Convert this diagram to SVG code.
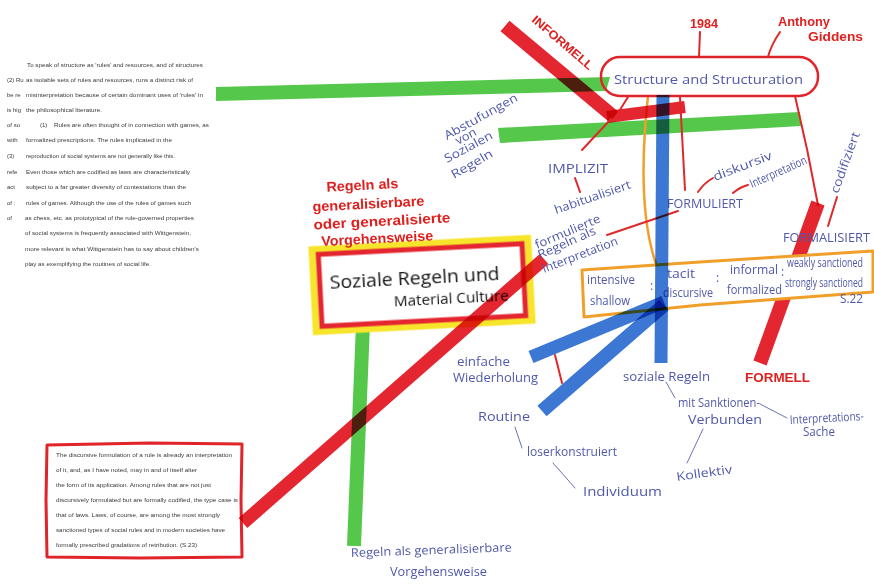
<svg xmlns="http://www.w3.org/2000/svg" width="874" height="584" viewBox="0 0 874 584">
<style>
.bar{fill:none;stroke-linecap:butt;mix-blend-mode:multiply}
.r{stroke:#e3262f}
.g{stroke:#55c84b}
.b{stroke:#3b77d3}
.thin{fill:none;stroke:#e0282a;stroke-width:2;stroke-linecap:round}
.bl{fill:none;stroke:#6d74b3;stroke-width:1;stroke-linecap:round}
.hw{font-family:"Open Sans","DejaVu Sans",sans-serif;fill:#4f58aa;font-size:12px}
.rb{font-family:"Liberation Sans",Arial,sans-serif;font-weight:bold;fill:#e0201f}
.doc{font-family:"Liberation Sans",Arial,sans-serif;font-size:6px;fill:#3a3a3a}
.blk{font-family:"Open Sans","Liberation Sans",sans-serif;fill:#151515}
</style>
<rect width="874" height="584" fill="#ffffff"/>

<g id="connectors">
  <polygon points="215,87 610,77 606,91 215,101" fill="#55c84b" style="mix-blend-mode:multiply"/>
  <polygon points="498,128 800,112 801,126 500,143" fill="#55c84b" style="mix-blend-mode:multiply"/>
  <line class="bar g" x1="363" y1="324" x2="354" y2="546" stroke-width="14"/>
  <path d="M648,96 C641,160 641,220 656,264" fill="none" stroke="#f0a02a" stroke-width="2.5"/>
  <line class="bar r" x1="505" y1="26" x2="614" y2="117" stroke-width="14"/>
  <line class="bar r" x1="607" y1="117" x2="685" y2="107" stroke-width="12"/>
  <line class="thin" x1="628" y1="97" x2="618" y2="113"/>
  <line class="thin" x1="680" y1="97" x2="685" y2="190"/>
  <line class="thin" x1="611" y1="119" x2="582" y2="150"/>
  <line class="thin" x1="575" y1="178" x2="580" y2="192"/>
  <path class="thin" d="M698,192 Q704,183 713,178"/>
  <path class="thin" d="M733,193 Q740,187 748,185"/>
  <line class="thin" x1="607" y1="235" x2="678" y2="211"/>
  <path class="thin" d="M795,96 Q808,150 818,205"/>
  <line class="thin" x1="837" y1="197" x2="828" y2="226"/>
  <line class="thin" x1="700" y1="32" x2="699" y2="57"/>
  <path class="thin" d="M780,32 Q771,45 768,57"/>
  <line class="thin" x1="555" y1="355" x2="562" y2="383"/>
  <line class="bar r" x1="818" y1="203" x2="760" y2="363" stroke-width="14"/>
  <line class="bl" x1="515" y1="427" x2="522" y2="448"/>
  <line class="bl" x1="553" y1="463" x2="575" y2="488"/>
  <line class="bl" x1="666" y1="382" x2="675" y2="398"/>
  <line class="bl" x1="760" y1="404" x2="787" y2="418"/>
  <line class="bl" x1="703" y1="429" x2="687" y2="463"/>
</g>

<g id="paper-quote">
  <rect x="0" y="55" width="216" height="225" fill="#ffffff"/>
  <text class="doc" x="7" y="82">(2) Ru</text>
  <text class="doc" x="7" y="97">be re</text>
  <text class="doc" x="7" y="112">is hig</text>
  <text class="doc" x="7" y="127">of so</text>
  <text class="doc" x="7" y="142">with</text>
  <text class="doc" x="7" y="158">(3)</text>
  <text class="doc" x="7" y="174">refe</text>
  <text class="doc" x="7" y="189">act</text>
  <text class="doc" x="7" y="205">of :</text>
  <text class="doc" x="7" y="220">of</text>
  <text class="doc" x="27" y="67" textLength="176" lengthAdjust="spacingAndGlyphs">To speak of structure as 'rules' and resources, and of structures</text>
  <text class="doc" x="26" y="82" textLength="167" lengthAdjust="spacingAndGlyphs">as isolable sets of rules and resources, runs a distinct risk of</text>
  <text class="doc" x="26" y="97" textLength="177" lengthAdjust="spacingAndGlyphs">misinterpretation because of certain dominant uses of 'rules' in</text>
  <text class="doc" x="26" y="112" textLength="76" lengthAdjust="spacingAndGlyphs">the philosophical literature.</text>
  <text class="doc" x="40" y="127">(1)</text>
  <text class="doc" x="54" y="127" textLength="155" lengthAdjust="spacingAndGlyphs">Rules are often thought of in connection with games, as</text>
  <text class="doc" x="26" y="142" textLength="146" lengthAdjust="spacingAndGlyphs">formalized prescriptions. The rules implicated in the</text>
  <text class="doc" x="26" y="158" textLength="149" lengthAdjust="spacingAndGlyphs">reproduction of social systems are not generally like this.</text>
  <text class="doc" x="26" y="174" textLength="164" lengthAdjust="spacingAndGlyphs">Even those which are codified as laws are characteristically</text>
  <text class="doc" x="26" y="189" textLength="160" lengthAdjust="spacingAndGlyphs">subject to a far greater diversity of contestations than the</text>
  <text class="doc" x="26" y="205" textLength="165" lengthAdjust="spacingAndGlyphs">rules of games. Although the use of the rules of games such</text>
  <text class="doc" x="25" y="220" textLength="169" lengthAdjust="spacingAndGlyphs">as chess, etc. as prototypical of the rule-governed properties</text>
  <text class="doc" x="25" y="235" textLength="166" lengthAdjust="spacingAndGlyphs">of social systems is frequently associated with Wittgenstein,</text>
  <text class="doc" x="25" y="251" textLength="174" lengthAdjust="spacingAndGlyphs">more relevant is what Wittgenstein has to say about children's</text>
  <text class="doc" x="25" y="266" textLength="126" lengthAdjust="spacingAndGlyphs">play as exemplifying the routines of social life.</text>
</g>

<g id="quote-box">
  <path d="M47,445 L150,443 L242,444 L241,500 L242,557 L140,558 L47,557 L46,500 Z" fill="#ffffff" stroke="#e0242a" stroke-width="3" stroke-linejoin="round"/>
  <text class="doc" x="56" y="457" textLength="176" lengthAdjust="spacingAndGlyphs">The discursive formulation of a rule is already an interpretation</text>
  <text class="doc" x="56" y="472" textLength="141" lengthAdjust="spacingAndGlyphs">of it, and, as I have noted, may in and of itself alter</text>
  <text class="doc" x="56" y="487" textLength="155" lengthAdjust="spacingAndGlyphs">the form of its application. Among rules that are not just</text>
  <text class="doc" x="56" y="502" textLength="182" lengthAdjust="spacingAndGlyphs">discursively formulated but are formally codified, the type case is</text>
  <text class="doc" x="56" y="517" textLength="164" lengthAdjust="spacingAndGlyphs">that of laws. Laws, of course, are among the most strongly</text>
  <text class="doc" x="56" y="532" textLength="169" lengthAdjust="spacingAndGlyphs">sanctioned types of social rules and in modern societies have</text>
  <text class="doc" x="56" y="547" textLength="141" lengthAdjust="spacingAndGlyphs">formally prescribed gradations of retribution. (S.23)</text>
</g>

<g id="soziale-regeln">
  <g transform="rotate(-3 422 285)">
    <rect x="314" y="244" width="216" height="82" fill="#ffffff" stroke="#f7e52b" stroke-width="7"/>
    <rect x="320" y="249" width="204" height="72" fill="#ffffff" stroke="#e3262f" stroke-width="5"/>
    <text class="blk" x="330" y="284" font-size="19" textLength="170" lengthAdjust="spacingAndGlyphs">Soziale  Regeln  und</text>
    <text class="blk" x="393" y="305" font-size="15" textLength="115" lengthAdjust="spacingAndGlyphs">Material Culture</text>
  </g>
</g>

<g id="red-bar-quote">
  <line class="bar r" x1="243" y1="523" x2="544" y2="259" stroke-width="13"/>
</g>

<g id="regeln-red-label">
  <g transform="rotate(-3 380 215)">
    <text class="rb" x="328" y="189" font-size="14" textLength="72" lengthAdjust="spacingAndGlyphs">Regeln als</text>
    <text class="rb" x="313" y="208" font-size="14" textLength="112" lengthAdjust="spacingAndGlyphs">generalisierbare</text>
    <text class="rb" x="313" y="226" font-size="14" textLength="137" lengthAdjust="spacingAndGlyphs">oder generalisierte</text>
    <text class="rb" x="320" y="243" font-size="14" textLength="112" lengthAdjust="spacingAndGlyphs">Vorgehensweise</text>
  </g>
</g>

<g id="structure">
  <rect x="601" y="57" width="217" height="39" rx="19" fill="none" stroke="#e0242a" stroke-width="2.5"/>
  <text class="hw" x="614" y="84" font-size="15" textLength="189" lengthAdjust="spacingAndGlyphs">Structure and Structuration</text>
</g>

<g id="year-author">
  <text class="rb" x="690" y="28" font-size="12" textLength="28" lengthAdjust="spacingAndGlyphs">1984</text>
  <text class="rb" x="778" y="26" font-size="12" textLength="52" lengthAdjust="spacingAndGlyphs">Anthony</text>
  <text class="rb" x="808" y="41" font-size="12" textLength="55" lengthAdjust="spacingAndGlyphs">Giddens</text>
</g>

<g id="informell">
  <text class="rb" x="531" y="21" font-size="12" textLength="76" lengthAdjust="spacingAndGlyphs" transform="rotate(40.5 531 21)">INFORMELL</text>
</g>

<g id="abstufungen">
  <text class="hw" x="447" y="140" textLength="82" lengthAdjust="spacingAndGlyphs" transform="rotate(-29 447 140)">Abstufungen</text>
  <text class="hw" x="458" y="145" textLength="22" lengthAdjust="spacingAndGlyphs" transform="rotate(-28 458 145)">von</text>
  <text class="hw" x="447" y="163" textLength="53" lengthAdjust="spacingAndGlyphs" transform="rotate(-28 447 163)">Sozialen</text>
  <text class="hw" x="454" y="179" textLength="46" lengthAdjust="spacingAndGlyphs" transform="rotate(-30 454 179)">Regeln</text>
</g>

<g id="implizit">
  <text class="hw" x="548" y="173" font-size="13" textLength="60" lengthAdjust="spacingAndGlyphs">IMPLIZIT</text>
  <text class="hw" x="556" y="214" textLength="80" lengthAdjust="spacingAndGlyphs" transform="rotate(-19 556 214)">habitualisiert</text>
</g>

<g id="formuliert">
  <text class="hw" x="667" y="208" font-size="14" textLength="76" lengthAdjust="spacingAndGlyphs">FORMULIERT</text>
  <text class="hw" x="715" y="181" textLength="62" lengthAdjust="spacingAndGlyphs" transform="rotate(-21 715 181)">diskursiv</text>
  <text class="hw" x="752" y="188" font-size="10" textLength="61" lengthAdjust="spacingAndGlyphs" transform="rotate(-24 752 188)">Interpretation</text>
  <text class="hw" x="537" y="249" textLength="70" lengthAdjust="spacingAndGlyphs" transform="rotate(-23 537 249)">formulierte</text>
  <text class="hw" x="540" y="259" textLength="62" lengthAdjust="spacingAndGlyphs" transform="rotate(-24 540 259)">Regeln als</text>
  <text class="hw" x="544" y="273" textLength="80" lengthAdjust="spacingAndGlyphs" transform="rotate(-21 544 273)">Interpretation</text>
</g>

<g id="formalisiert">
  <text class="hw" x="783" y="242" font-size="13" textLength="87" lengthAdjust="spacingAndGlyphs">FORMALISIERT</text>
  <text class="hw" x="838" y="194" textLength="64" lengthAdjust="spacingAndGlyphs" transform="rotate(-70 838 194)">codifiziert</text>
</g>

<g id="dimensions">
  <path d="M582,270 L700,262 L873,251 L873,292 L700,305 L584,317 Z" fill="#ffffff" stroke="#f0a02a" stroke-width="3" stroke-linejoin="round"/>
  <text class="hw" x="587" y="284" textLength="48" lengthAdjust="spacingAndGlyphs">intensive</text>
  <text class="hw" x="590" y="305" textLength="40" lengthAdjust="spacingAndGlyphs">shallow</text>
  <text class="hw" x="650" y="290">:</text>
  <text class="hw" x="667" y="278" textLength="28" lengthAdjust="spacingAndGlyphs">tacit</text>
  <text class="hw" x="663" y="297" textLength="50" lengthAdjust="spacingAndGlyphs">discursive</text>
  <text class="hw" x="716" y="282">:</text>
  <text class="hw" x="730" y="274" textLength="48" lengthAdjust="spacingAndGlyphs">informal</text>
  <text class="hw" x="727" y="294" textLength="55" lengthAdjust="spacingAndGlyphs">formalized</text>
  <text class="hw" x="781" y="276">:</text>
  <text class="hw" x="787" y="267" font-size="9" textLength="76" lengthAdjust="spacingAndGlyphs">weakly sanctioned</text>
  <text class="hw" x="785" y="287" font-size="9" textLength="78" lengthAdjust="spacingAndGlyphs">strongly sanctioned</text>
  <text class="hw" x="840" y="303" font-size="11" textLength="23" lengthAdjust="spacingAndGlyphs">S.22</text>
</g>

<g id="blue-bars">
  <line class="bar b" x1="663" y1="95" x2="661" y2="363" stroke-width="13"/>
  <line class="bar b" x1="664" y1="302" x2="531" y2="357" stroke-width="13"/>
  <line class="bar b" x1="664" y1="305" x2="542" y2="411" stroke-width="14"/>
</g>

<g id="formell">
  <text class="rb" x="745" y="382" font-size="13" textLength="65" lengthAdjust="spacingAndGlyphs">FORMELL</text>
</g>

<g id="routine-branch">
  <text class="hw" x="457" y="366" textLength="53" lengthAdjust="spacingAndGlyphs">einfache</text>
  <text class="hw" x="453" y="382" textLength="85" lengthAdjust="spacingAndGlyphs">Wiederholung</text>
  <text class="hw" x="478" y="421" textLength="52" lengthAdjust="spacingAndGlyphs">Routine</text>
  <text class="hw" x="527" y="456" textLength="90" lengthAdjust="spacingAndGlyphs">loserkonstruiert</text>
  <text class="hw" x="583" y="496" textLength="79" lengthAdjust="spacingAndGlyphs">Individuum</text>
</g>

<g id="soziale-branch">
  <text class="hw" x="623" y="381" textLength="87" lengthAdjust="spacingAndGlyphs">soziale Regeln</text>
  <text class="hw" x="678" y="407" font-size="10.5" textLength="82" lengthAdjust="spacingAndGlyphs">mit Sanktionen-</text>
  <text class="hw" x="688" y="424" font-size="10.5" textLength="74" lengthAdjust="spacingAndGlyphs">Verbunden</text>
  <text class="hw" x="790" y="424" font-size="9" textLength="74" lengthAdjust="spacingAndGlyphs" transform="rotate(-3 790 424)">Interpretations-</text>
  <text class="hw" x="803" y="436" font-size="11" textLength="32" lengthAdjust="spacingAndGlyphs">Sache</text>
  <text class="hw" x="677" y="481" textLength="56" lengthAdjust="spacingAndGlyphs" transform="rotate(-8 677 481)">Kollektiv</text>
</g>

<g id="green-label">
  <text class="hw" x="351" y="557" font-size="13" textLength="161" lengthAdjust="spacingAndGlyphs" transform="rotate(-2 351 557)">Regeln als generalisierbare</text>
  <text class="hw" x="390" y="576" font-size="13" textLength="97" lengthAdjust="spacingAndGlyphs">Vorgehensweise</text>
</g>
</svg>
